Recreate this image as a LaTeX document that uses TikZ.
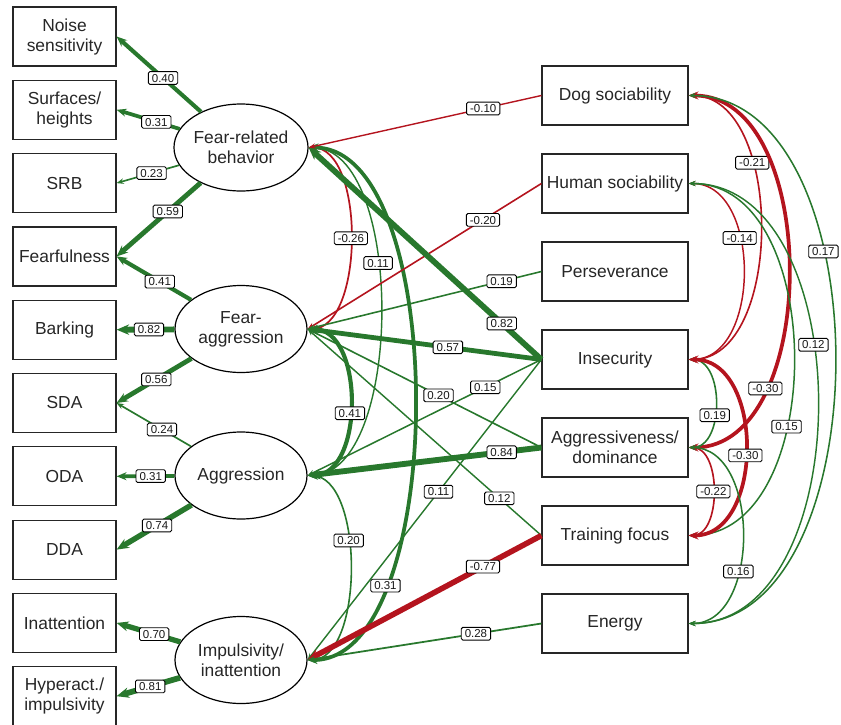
\documentclass[tikz,border=0pt]{standalone}
\usepackage{fontspec}
\setmainfont{Liberation Sans}
\usepackage{tikz}
\usetikzlibrary{arrows.meta,positioning,shapes.geometric}
\definecolor{semgreen}{RGB}{40,120,45}
\definecolor{semred}{RGB}{180,20,30}
\tikzset{
    %Define standard arrow tip
    >={Stealth[length=5pt 1.3,width=3.5pt 1.2]},
    %Define style for boxes
    observedrect/.style={
           rectangle,
           draw=black!85, line width=1.2pt,
           minimum width=103pt,
           minimum height=59pt,
           inner sep=0pt,
           font=\fontsize{17.4}{20}\selectfont,
           text=black!85,
           align=center},
    predrect/.style={
           observedrect,
           minimum width=146pt},
    latent/.style={
           ellipse,
           draw=black, line width=1.2pt,
           minimum width=132pt,
           minimum height=87pt,
           inner sep=0pt,
           font=\fontsize{17.4}{20}\selectfont,
           text=black!85,
           align=center},
    %Define style for coefficient labels
    coef/.style={
           rectangle,
           rounded corners=1.5pt,
           draw=black, line width=0.9pt,
           fill=white,
           font=\fontsize{11.5}{12}\selectfont,
           text=black!90,
           inner xsep=3.5pt, inner ysep=2.2pt,
           text height=8.3pt, text depth=0pt},
    % Define arrow style
    wpath/.style={line width={((#1>=0.3)?(2.5+4*#1):(1.2+2*#1))*1pt}},
    pospath/.style={->, draw=semgreen, wpath=#1},
    negpath/.style={->, draw=semred, wpath=#1},
    poscov/.style={<->, draw=semgreen, wpath=#1, out=0, in=0},
    negcov/.style={<->, draw=semred, wpath=#1, out=0, in=0}
}
\begin{document}
\begin{tikzpicture}[->, x=1pt, y=-1pt, node distance=13.1pt]
\useasboundingbox (0,0) rectangle (841,724);
 %indicators
\node[observedrect] (noise) at (64.5,36.5) {Noise\\sensitivity};
\node[observedrect, below=of noise] (surf) {Surfaces/\\heights};
\node[observedrect, below=of surf] (srb) {SRB};
\node[observedrect, below=of srb] (fearful) {Fearfulness};
\node[observedrect, below=of fearful] (bark) {Barking};
\node[observedrect, below=of bark] (sda) {SDA};
\node[observedrect, below=of sda] (oda) {ODA};
\node[observedrect, below=of oda] (dda) {DDA};
\node[observedrect, below=of dda] (inatt) {Inattention};
\node[observedrect, below=of inatt] (hyper) {Hyperact./\\impulsivity};
 %latent factors
\node[latent] (frb) at (241,147.5) {Fear-related\\behavior};
\node[latent] (fag) at (241,329) {Fear-\\aggression};
\node[latent] (agg) at (241,475.5) {Aggression};
\node[latent] (imp) at (241,660) {Impulsivity/\\inattention};
 %predictors
\node[predrect] (dog) at (615,95.5) {Dog sociability};
\node[predrect, below=27.8pt of dog] (hum) {Human sociability};
\node[predrect, below=27.8pt of hum] (per) {Perseverance};
\node[predrect, below=27.8pt of per] (ins) {Insecurity};
\node[predrect, below=27.8pt of ins] (agd) {Aggressiveness/\\dominance};
\node[predrect, below=27.8pt of agd] (trn) {Training focus};
\node[predrect, below=27.8pt of trn] (nrg) {Energy};
 %covariances of factors
\path (frb.east) edge[negcov=0.26, distance=57pt] node[coef,pos=0.5]{-0.26} (fag.east)
          edge[poscov=0.11, distance=97pt] node[coef,pos=0.4]{0.11} (agg.east)
          edge[poscov=0.31, distance=142pt] node[coef,pos=0.76]{0.31} (imp.east)
    (fag.east) edge[poscov=0.41, distance=57pt] node[coef,pos=0.55]{0.41} (agg.east)
    (agg.east) edge[poscov=0.20, distance=57pt] node[coef,pos=0.4]{0.20} (imp.east);
 %covariances of predictors
\path (dog.east) edge[negcov=0.21, distance=96pt] node[coef,pos=0.33]{-0.21} (ins.east)
          edge[negcov=0.30, distance=133pt] node[coef,pos=0.74]{-0.30} (agd.east)
          edge[poscov=0.17, distance=195pt] node[coef,pos=0.36]{0.17} (nrg.east)
    (hum.east) edge[negcov=0.14, distance=73pt] node[coef,pos=0.37]{-0.14} (ins.east)
          edge[poscov=0.15, distance=140pt] node[coef,pos=0.63]{0.15} (trn.east)
          edge[poscov=0.12, distance=172pt] node[coef,pos=0.41]{0.12} (nrg.east)
    (ins.east) edge[poscov=0.19, distance=36pt] node[coef,pos=0.59]{0.19} (agd.east)
          edge[negcov=0.30, distance=76pt] node[coef,pos=0.53]{-0.30} (trn.east)
    (agd.east) edge[negcov=0.22, distance=33pt] node[coef,pos=0.5]{-0.22} (trn.east)
          edge[poscov=0.16, distance=72pt] node[coef,pos=0.64]{0.16} (nrg.east);
 %regressions
\path (dog.west) edge[negpath=0.10] node[coef,pos=0.25]{-0.10} (frb.east)
    (hum.west) edge[negpath=0.20] node[coef,pos=0.25]{-0.20} (fag.east)
    (per.west) edge[pospath=0.19] node[coef,pos=0.17]{0.19} (fag.east)
    (ins.west) edge[pospath=0.82] node[coef,pos=0.17]{0.82} (frb.east)
          edge[pospath=0.57] node[coef,pos=0.40]{0.57} (fag.east)
          edge[pospath=0.15] node[coef,pos=0.24]{0.15} (agg.east)
          edge[pospath=0.11] node[coef,pos=0.44]{0.11} (imp.east)
    (agd.west) edge[pospath=0.20] node[coef,pos=0.44]{0.20} (fag.east)
          edge[pospath=0.84] node[coef,pos=0.17]{0.84} (agg.east)
    (trn.west) edge[pospath=0.12] node[coef,pos=0.18]{0.12} (fag.east)
          edge[negpath=0.77] node[coef,pos=0.25]{-0.77} (imp.east)
    (nrg.west) edge[pospath=0.28] node[coef,pos=0.28]{0.28} (imp.east);
 %loadings
\path (frb) edge[pospath=0.40] node[coef,pos=0.45]{0.40} (noise.east)
          edge[pospath=0.31] node[coef,pos=0.37]{0.31} (surf.east)
          edge[pospath=0.23] node[coef,pos=0.44]{0.23} (srb.east)
          edge[pospath=0.59] node[coef,pos=0.39]{0.59} (fearful.east)
    (fag) edge[pospath=0.41] node[coef,pos=0.42]{0.41} (fearful.east)
          edge[pospath=0.82] node[coef,pos=0.44]{0.82} (bark.east)
          edge[pospath=0.56] node[coef,pos=0.47]{0.56} (sda.east)
    (agg) edge[pospath=0.24] node[coef,pos=0.39]{0.24} (sda.east)
          edge[pospath=0.31] node[coef,pos=0.41]{0.31} (oda.east)
          edge[pospath=0.74] node[coef,pos=0.46]{0.74} (dda.east)
    (imp) edge[pospath=0.70] node[coef,pos=0.41]{0.70} (inatt.east)
          edge[pospath=0.81] node[coef,pos=0.47]{0.81} (hyper.east);
\end{tikzpicture}
\end{document}
